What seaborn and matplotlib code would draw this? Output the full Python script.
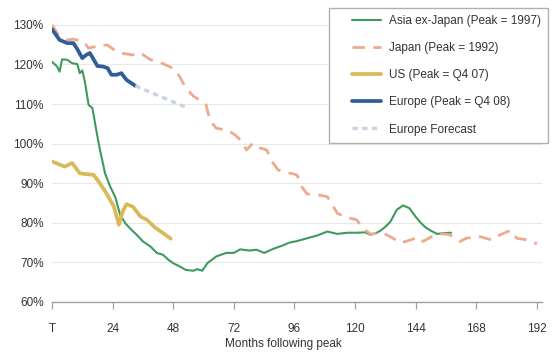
import numpy as np
import pandas as pd
import seaborn as sns
import matplotlib
matplotlib.use("Agg")
import matplotlib.pyplot as plt
from matplotlib.legend_handler import HandlerLine2D

## values (months after peak, % of peak level)
asia_months = [0, 2, 3, 4, 6, 8, 10, 11, 12, 13, 14.5, 16, 17.5, 19, 20, 21, 23, 25, 27, 29,
               31.5, 33.5, 36, 39, 41.5, 44, 46, 48, 50.5, 53, 56, 57.5, 59.5, 61.5, 65, 69,
               72, 74.5, 78, 81, 84, 87.5, 91, 94, 97, 101, 105, 109, 113, 117, 121, 124,
               126, 128, 130, 132, 134, 136.5, 139, 141.5, 144, 146, 148, 150, 152.5, 155, 158]
asia_values = [120.7, 119.5, 118.2, 121.3, 121.2, 120.3, 120.1, 117.8, 118.5, 115.7, 109.8, 109.0,
               103.5, 98.4, 95.5, 92.5, 89.2, 86.6, 82.0, 79.9, 78.2, 77.0, 75.3, 74.0, 72.4, 71.9,
               70.7, 69.8, 69.0, 68.1, 67.9, 68.3, 67.9, 69.8, 71.5, 72.4, 72.4, 73.3, 73.0, 73.2,
               72.4, 73.4, 74.2, 75.0, 75.4, 76.1, 76.8, 77.8, 77.2, 77.5, 77.5, 77.6, 77.0, 77.3,
               78.0, 79.0, 80.3, 83.3, 84.4, 83.7, 81.5, 80.0, 78.8, 78.0, 77.2, 77.4, 77.5]

japan_months = [0, 2.5, 6, 8.5, 12.5, 14.5, 17, 19, 22, 25, 27, 30, 32, 35, 39, 42, 45, 48, 50.5,
                53, 56, 58.5, 61, 62.5, 65, 68.5, 70.5, 72.5, 74.5, 77, 79.5, 82.5, 85, 87.5, 89.5,
                92, 94.5, 97, 99, 101, 105, 109, 111, 113, 116.5, 120.5, 123.5, 126, 129, 131, 134,
                138, 142, 145, 147, 151.5, 155, 157.5, 159.5, 161.5, 164, 167, 169.5, 174, 177.5,
                181.5, 184, 188, 192]
japan_values = [130.0, 127.5, 126.2, 126.4, 125.8, 124.1, 124.5, 124.9, 124.9, 123.5, 122.9, 122.6,
                122.4, 122.9, 121.2, 120.7, 119.9, 119.0, 117.0, 114.0, 112.0, 111.0, 109.8, 106.0,
                103.9, 103.5, 103.0, 102.2, 101.0, 98.4, 100.1, 98.9, 98.4, 95.1, 93.4, 92.8, 92.5,
                92.1, 89.0, 87.3, 87.1, 86.6, 84.5, 82.4, 81.4, 80.8, 78.4, 77.2, 77.3, 77.4, 76.5,
                74.9, 75.7, 76.4, 75.3, 77.0, 77.2, 77.0, 76.1, 75.3, 76.1, 76.4, 76.5, 75.7, 77.0,
                78.1, 76.1, 75.7, 74.7]

us_months = [0, 5, 8, 11, 16.5, 18.5, 21.5, 24.5, 26.5, 28, 29.5, 32, 35, 37.5, 41, 44, 47]
us_values = [95.5, 94.2, 95.1, 92.5, 92.1, 90.4, 87.5, 84.1, 79.5, 82.9, 84.7, 84.1, 81.6, 80.8,
             78.7, 77.4, 76.0]

europe_months = [0, 3, 6, 8.5, 10, 12, 13.5, 15, 18, 20, 22, 23.5, 25.5, 27.5, 29.5, 33]
europe_values = [128.9, 126.2, 125.4, 125.4, 123.9, 121.6, 122.4, 122.9, 119.6, 119.5, 119.1,
                 117.4, 117.4, 117.8, 116.1, 114.6]

forecast_months = [33, 53]
forecast_values = [114.6, 109.2]

x_ticks = [0, 24, 48, 72, 96, 120, 144, 168, 192]
x_labels = ["T", "24", "48", "72", "96", "120", "144", "168", "192"]
y_ticks = [60, 70, 80, 90, 100, 110, 120, 130]

sns.set_theme(style="white")
plt.rcParams["font.family"] = ["Liberation Sans", "DejaVu Sans"]

fig = plt.figure(figsize=(5.6, 3.52), dpi=100)
ax = fig.add_axes([52 / 560, 1 - 302 / 352, 490 / 560, 287 / 352])

sns.lineplot(x=asia_months, y=asia_values, ax=ax, color="#3d9a5c", lw=1.5,
             label="Asia ex-Japan (Peak = 1997)")
sns.lineplot(x=japan_months, y=japan_values, ax=ax, color="#eeaa8e", lw=2.0,
             label="Japan (Peak = 1992)").lines[-1].set_dashes([4.5, 3])
sns.lineplot(x=us_months, y=us_values, ax=ax, color="#d9b95a", lw=2.7,
             label="US (Peak = Q4 07)")
sns.lineplot(x=europe_months, y=europe_values, ax=ax, color="#2f5f96", lw=2.7,
             label="Europe (Peak = Q4 08)")
sns.lineplot(x=forecast_months, y=forecast_values, ax=ax, color="#c8d4df", lw=2.4,
             label="Europe Forecast").lines[-1].set_dashes([1.6, 1.3])

ax.set_xlim(0, 194)
ax.set_ylim(60, 132.5)
ax.set_xticks(x_ticks)
ax.set_xticklabels(x_labels)
ax.set_yticks(y_ticks)
ax.set_yticklabels([f"{v}%" for v in y_ticks])
ax.yaxis.grid(True, color="#e8e8e8", lw=0.8)
ax.xaxis.grid(False)
ax.set_axisbelow(True)

for s in ["top", "right", "left"]:
    ax.spines[s].set_visible(False)
ax.spines["bottom"].set_color("#a0a0a0")
ax.spines["bottom"].set_linewidth(1.0)

ax.tick_params(axis="x", bottom=True, length=5, width=0.9, color="#a0a0a0",
               pad=10, labelsize=8.5, labelcolor="#333333")
ax.tick_params(axis="y", left=False, length=0, pad=6, labelsize=8.5, labelcolor="#333333")
ax.set_xlabel("Months following peak", fontsize=8.5, color="#333333", labelpad=2, x=0.472)
ax.set_ylabel("")

leg = ax.legend(loc="upper right", bbox_to_anchor=(548 / 560, 1 - 8 / 352),
                bbox_transform=fig.transFigure, borderaxespad=0, fontsize=8.5,
                frameon=True, fancybox=False, edgecolor="#b0b0b0", framealpha=1,
                handlelength=3.8, handletextpad=0.7, labelspacing=1.28, borderpad=0.6,
                handler_map={matplotlib.lines.Line2D: HandlerLine2D(xpad=1.4)})
leg.get_frame().set_linewidth(1.0)
for t in leg.get_texts():
    t.set_color("#333333")

fig.savefig("out.png", dpi=100)
